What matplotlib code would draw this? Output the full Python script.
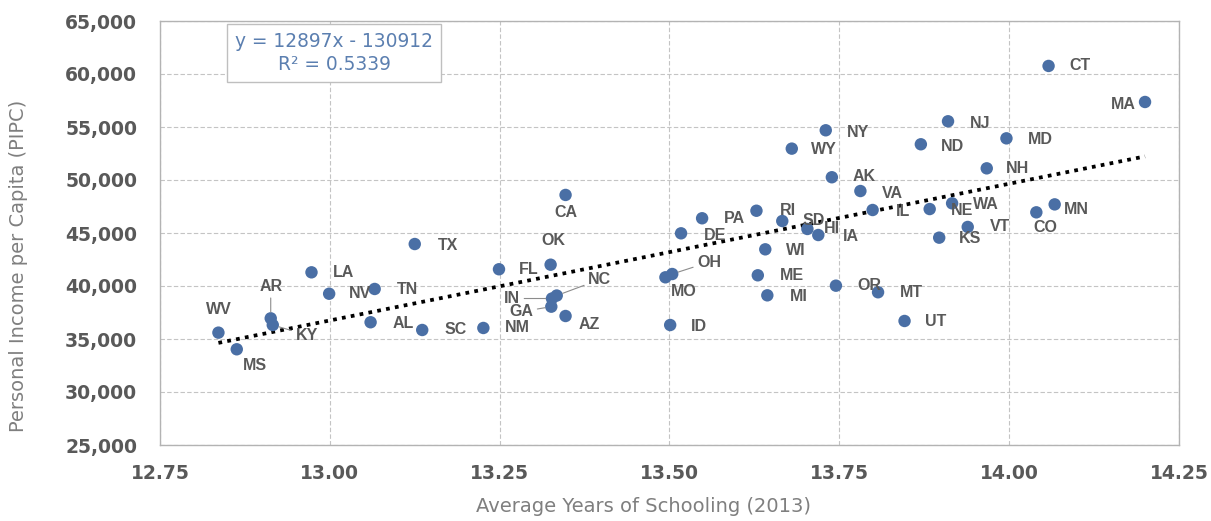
import matplotlib
matplotlib.use("Agg")
import matplotlib.pyplot as plt
from matplotlib import font_manager
import numpy as np

# ---------------- data ----------------
states = ['WV', 'MS', 'AR', 'KY', 'LA', 'NV', 'TN', 'AL', 'TX', 'SC',
          'NM', 'FL', 'OK', 'CA', 'IN', 'NC', 'GA', 'AZ', 'MO', 'OH',
          'ID', 'DE', 'PA', 'RI', 'SD', 'HI', 'IA', 'WI', 'ME', 'MI',
          'AK', 'VA', 'OR', 'MT', 'IL', 'CT', 'MA', 'NJ', 'NY', 'WY',
          'ND', 'MD', 'NH', 'NE', 'WA', 'VT', 'KS', 'CO', 'MN', 'UT']
schooling = [12.836, 12.863, 12.913, 12.916, 12.973, 12.999, 13.066, 13.060, 13.125, 13.136,
             13.226, 13.249, 13.325, 13.347, 13.327, 13.334, 13.326, 13.347, 13.494, 13.504,
             13.501, 13.517, 13.548, 13.628, 13.666, 13.703, 13.719, 13.641, 13.630, 13.644,
             13.739, 13.781, 13.745, 13.807, 13.799, 14.058, 14.200, 13.910, 13.730, 13.680,
             13.870, 13.996, 13.967, 13.883, 13.916, 13.939, 13.897, 14.040, 14.067, 13.846]
income = [35600, 34030, 36950, 36320, 41290, 39270, 39720, 36580, 43960, 35850,
          36040, 41580, 42010, 48590, 38820, 39100, 38050, 37170, 40820, 41130,
          36320, 44970, 46390, 47100, 46130, 45380, 44810, 43460, 41010, 39120,
          50260, 48960, 40030, 39410, 47170, 60760, 57360, 55540, 54690, 52960,
          53370, 53930, 51100, 47260, 47800, 45570, 44560, 46950, 47700, 36700]

trend_slope = 12897
trend_intercept = -130912
r_squared = 0.5339

x_ticks = [12.75, 13.00, 13.25, 13.50, 13.75, 14.00, 14.25]
y_ticks = [25000, 30000, 35000, 40000, 45000, 50000, 55000, 60000, 65000]

x_title = "Average Years of Schooling (2013)"
y_title = "Personal Income per Capita (PIPC)"

# label placement (offset of label centre from point, in pixels; +y = up)
label_offsets = {
    'WV': (0, 23), 'MS': (18, -16), 'AR': (0, 32), 'KY': (34, -10), 'LA': (32, 0),
    'NV': (31, 0), 'TN': (33, -1), 'AL': (33, -1), 'TX': (33, -1), 'SC': (33, 0),
    'NM': (34, 0), 'FL': (30, 0), 'OK': (3, 24), 'CA': (0, -18), 'IN': (-40, 0),
    'NC': (43, 16), 'GA': (-30, -5), 'AZ': (24, -9), 'MO': (18, -14), 'OH': (37, 12),
    'ID': (29, -1), 'DE': (34, -2), 'PA': (32, 0), 'RI': (31, 0), 'SD': (31, 1),
    'HI': (25, 0), 'IA': (33, -1), 'WI': (31, -1), 'ME': (34, 0), 'MI': (31, -1),
    'AK': (32, 1), 'VA': (32, -2), 'OR': (33, 0), 'MT': (33, 0), 'IL': (30, -2),
    'CT': (31, 0), 'MA': (-22, -3), 'NJ': (32, -2), 'NY': (32, -2), 'WY': (32, -1),
    'ND': (32, -2), 'MD': (34, -1), 'NH': (31, 0), 'NE': (32, -1), 'WA': (34, -1),
    'VT': (32, 0), 'KS': (31, -1), 'CO': (9, -15), 'MN': (22, -5), 'UT': (31, -1),
}
leader_states = {'AR', 'KY', 'IN', 'NC', 'GA', 'OH'}

# ---------------- fonts ----------------
names = {f.name for f in font_manager.fontManager.ttflist}
if 'Liberation Sans Narrow' in names:
    label_family = 'Liberation Sans Narrow'
    label_size = 12.5
else:
    label_family = 'Liberation Sans'
    label_size = 11.5

# ---------------- figure ----------------
W, H = 1211, 521
fig = plt.figure(figsize=(W / 100, H / 100), dpi=100)
L, R, T, B = 160, 1179, 21, 445
ax = fig.add_axes([L / W, 1 - B / H, (R - L) / W, (B - T) / H])

ax.set_xlim(12.75, 14.25)
ax.set_ylim(25000, 65000)
ax.set_xticks(x_ticks)
ax.set_yticks(y_ticks)
ax.set_xticklabels([f"{v:.2f}" for v in x_ticks])
ax.set_yticklabels([f"{v:,}" for v in y_ticks])
tick_color = '#595959'
for lab in ax.get_xticklabels() + ax.get_yticklabels():
    lab.set_fontfamily('DejaVu Sans')
    lab.set_fontweight('bold')
    lab.set_fontsize(13.5)
    lab.set_color(tick_color)
ax.tick_params(axis='both', length=0)
ax.tick_params(axis='y', pad=16.5)
ax.tick_params(axis='x', pad=14)

ax.grid(True, color='#c4c4c4', linestyle=(0, (4, 2)), linewidth=0.8)
ax.set_axisbelow(True)
for sp in ax.spines.values():
    sp.set_color('#b3b3b3')
    sp.set_linewidth(1.0)

# trend line
xs = np.array([min(schooling), max(schooling)])
ax.plot(xs, trend_slope * xs + trend_intercept, color='black',
        linestyle=(0, (1, 1.4)), linewidth=2.7, zorder=2)

# points
ax.scatter(schooling, income, s=80, color='#4a6fa5', edgecolors='none', zorder=3)

# labels
for st, xv, yv in zip(states, schooling, income):
    dx, dy = label_offsets[st]
    kw = {}
    if st in leader_states:
        kw['arrowprops'] = dict(arrowstyle='-', color='#8c8c8c', lw=0.8,
                                shrinkA=1, shrinkB=4.5)
    ax.annotate(st, (xv, yv), xytext=(dx, dy), textcoords='offset pixels',
                ha='center', va='center', fontsize=label_size,
                fontfamily=label_family, fontweight='bold', color=tick_color,
                zorder=4, **kw)

# equation box
eq_text = f"y = {trend_slope}x - {abs(trend_intercept)}\nR\u00b2 = {r_squared}"
ax.text((334 - L) / (R - L), (B - 53) / (B - T), eq_text, transform=ax.transAxes,
        ha='center', va='center', multialignment='center', fontsize=13.4,
        fontfamily='DejaVu Sans', color='#5b7fb0', linespacing=1.25, zorder=5,
        bbox=dict(boxstyle='square,pad=0.45', facecolor='white',
                  edgecolor='#bfbfbf', linewidth=1.0))

# axis titles
fig.text(644 / W, 1 - 506 / H, x_title, ha='center', va='center',
         fontsize=14, color='#7f7f7f', fontfamily='DejaVu Sans')
fig.text(19 / W, 1 - 266 / H, y_title, ha='center', va='center', rotation=90,
         fontsize=14, color='#7f7f7f', fontfamily='DejaVu Sans')

fig.savefig('out.png', dpi=100, facecolor='white')
